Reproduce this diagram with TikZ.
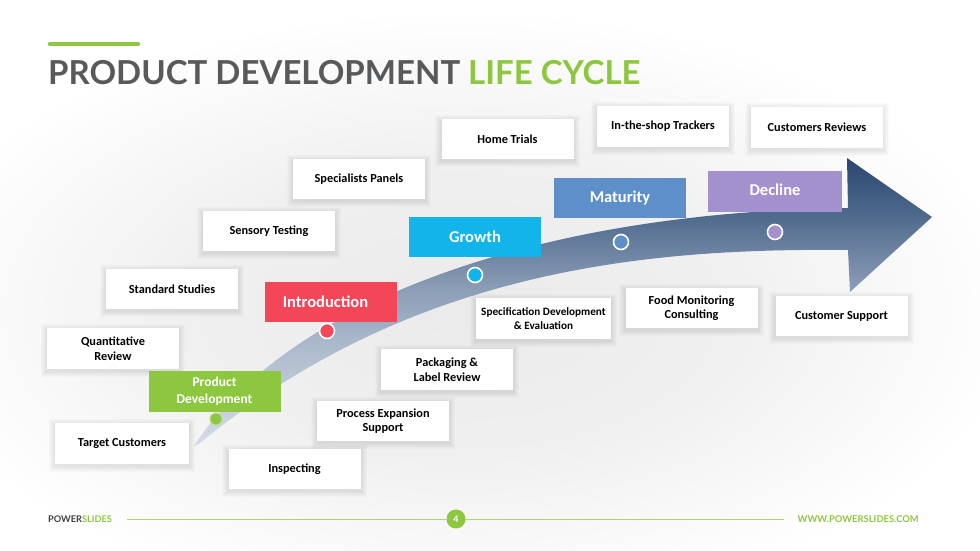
\documentclass[tikz,border=0pt]{standalone}
\usepackage{fontspec}
\setmainfont{Carlito}
\newfontfamily\lato{Lato}
\pgfdeclarelayer{back}
\pgfdeclarelayer{mid}
\pgfsetlayers{back,mid,main}
\definecolor{pgreen}{HTML}{8DC63F}
\definecolor{tgray}{HTML}{58595B}
\definecolor{pred}{HTML}{F34659}
\definecolor{pcyan}{HTML}{13B4E9}
\definecolor{pblue}{HTML}{5E8FC9}
\definecolor{ppurple}{HTML}{A391CE}
\definecolor{a0}{HTML}{D3DCE6}
\definecolor{a1}{HTML}{AEBCCD}
\definecolor{a2}{HTML}{8EA0B8}
\definecolor{a3}{HTML}{6C82A1}
\definecolor{a4}{HTML}{4A6689}
\definecolor{a5}{HTML}{2A4670}
\pgfdeclareverticalshading{arrsh}{100bp}{color(0bp)=(a0); color(25bp)=(a0); color(41.7bp)=(a1); color(51.7bp)=(a2); color(59bp)=(a3); color(66bp)=(a4); color(75bp)=(a5); color(100bp)=(a5)}
\pgfdeclareradialshading{glow}{\pgfpoint{0bp}{0bp}}{color(0bp)=(black!8); color(12bp)=(black!6); color(25bp)=(white); color(50bp)=(white)}
\begin{document}
\begin{tikzpicture}[x=1pt,y=-1pt,
  wbox/.style={fill=white, minimum width=132pt, minimum height=40pt, inner sep=2pt, align=center, text=black, font=\bfseries\fontsize{12.3}{14.5}\selectfont},
  cbox/.style={minimum width=132pt, minimum height=40pt, inner sep=2pt, align=center, text=white, font=\bfseries\fontsize{16.5}{18}\selectfont},
  dot/.style={circle, draw=white, line width=1.6pt, minimum size=15pt, inner sep=0pt},
  fline/.style={draw=pgreen!75, line width=0.9pt},
  shlayer/.style={fill=black, opacity=0.016}
]
\useasboundingbox (0,0) rectangle (980,550);
\begin{pgfonlayer}{back}
\fill[white] (0,0) rectangle (980,550);
\shade[shading=glow] (460,310) ellipse [x radius=560pt, y radius=300pt];
% arrow
\shade[shading=arrsh]
  (194,446) .. controls (290,300) and (540,212) .. (848,208)
  -- (847,158) -- (932,217) -- (850,292) -- (848,250)
  .. controls (650,248) and (412,268) .. (200,443) -- cycle;
\end{pgfonlayer}

% title
\draw[pgreen, line width=4.5pt, line cap=round] (50,44) -- (138,44);
\node[anchor=base west, inner sep=0pt, font=\lato\bfseries\fontsize{33}{35}\selectfont] (title) at (48,84)
  {\textcolor{tgray}{PRODUCT DEVELOPMENT} \textcolor{pgreen}{LIFE CYCLE}};

% white boxes
\node[wbox] (home) at (507.5,139) {Home Trials};
\node[wbox, minimum height=41pt] (shop) at (663,126.5) {In-the-shop Trackers};
\node[wbox, minimum height=41pt] (crev) at (817,127.5) {Customers Reviews};
\node[wbox] (spec) at (359,179) {Specialists Panels};
\node[wbox] (sens) at (269,231) {Sensory Testing};
\node[wbox] (std) at (172,289) {Standard Studies};
\node[wbox, minimum height=41pt] (quant) at (113,348.5) {Quantitative\\Review};
\node[wbox, minimum width=134pt, minimum height=41pt] (target) at (122,443.5) {Target Customers};
\node[wbox] (insp) at (294.5,469) {Inspecting};
\node[wbox] (proc) at (383,421) {Process Expansion\\Support};
\node[wbox, minimum height=41pt] (pack) at (447,369.5) {Packaging \&\\Label Review};
\node[wbox, minimum width=135pt, minimum height=41pt, font=\bfseries\fontsize{11.2}{13.5}\selectfont] (specdev) at (543.5,318.5) {Specification Development\\\& Evaluation};
\node[wbox] (food) at (691.5,308) {Food Monitoring\\Consulting};
\node[wbox] (csup) at (841.5,316) {Customer Support};

% soft shadows of the white boxes
\begin{pgfonlayer}{mid}
\foreach \n in {home,shop,crev,spec,sens,std,quant,target,insp,proc,pack,specdev,food,csup}{
  \foreach \k in {1,...,6}{
    \fill[shlayer] ([xshift=-\k pt, yshift=-\k pt-2pt]\n.south west) rectangle ([xshift=\k pt, yshift=\k pt-2pt]\n.north east);
  }
}
\end{pgfonlayer}

% colored stage boxes
\node[cbox, fill=pgreen, minimum height=41pt, font=\bfseries\fontsize{13.5}{17}\selectfont] (prod) at (214.5,391.5) {Product\\Development};
\node[cbox, fill=pred] (intro) at (330.5,302) {\hspace*{-10pt}Introduction};
\node[cbox, fill=pcyan] (growth) at (475,237) {Growth};
\node[cbox, fill=pblue] (matur) at (620,198) {Maturity};
\node[cbox, fill=ppurple, minimum width=134pt, minimum height=41pt] (decl) at (775,191.5) {\raisebox{3pt}{Decline}};

% dots
\node[dot, fill=pgreen, draw=pgreen!60, line width=1pt, minimum size=12pt] (d1) at (216,419) {};
\node[dot, fill=pred] (d2) at (327,331) {};
\node[dot, fill=pcyan] (d3) at (475,275) {};
\node[dot, fill=pblue] (d4) at (621,242) {};
\node[dot, fill=ppurple] (d5) at (775,232) {};

% footer
\node[anchor=west, inner sep=0pt, font=\lato\bfseries\fontsize{9.2}{10}\selectfont] (brand) at (48,519) {\textcolor{black!75}{POWER}\textcolor{pgreen}{SLIDES}};
\node[circle, fill=pgreen, minimum size=19pt, inner sep=0pt, text=white, font=\lato\bfseries\fontsize{9}{10}\selectfont] (page) at (456,519) {4};
\node[anchor=east, inner sep=0pt, text=pgreen, font=\lato\bfseries\fontsize{9.4}{10}\selectfont] (www) at (919,519) {WWW.POWERSLIDES.COM};
\coordinate (l1a) at (127,519);
\coordinate (l2b) at (784,519);
\draw[fline] (l1a) -- (page.west);
\draw[fline] (page.east) -- (l2b);
\end{tikzpicture}
\end{document}
